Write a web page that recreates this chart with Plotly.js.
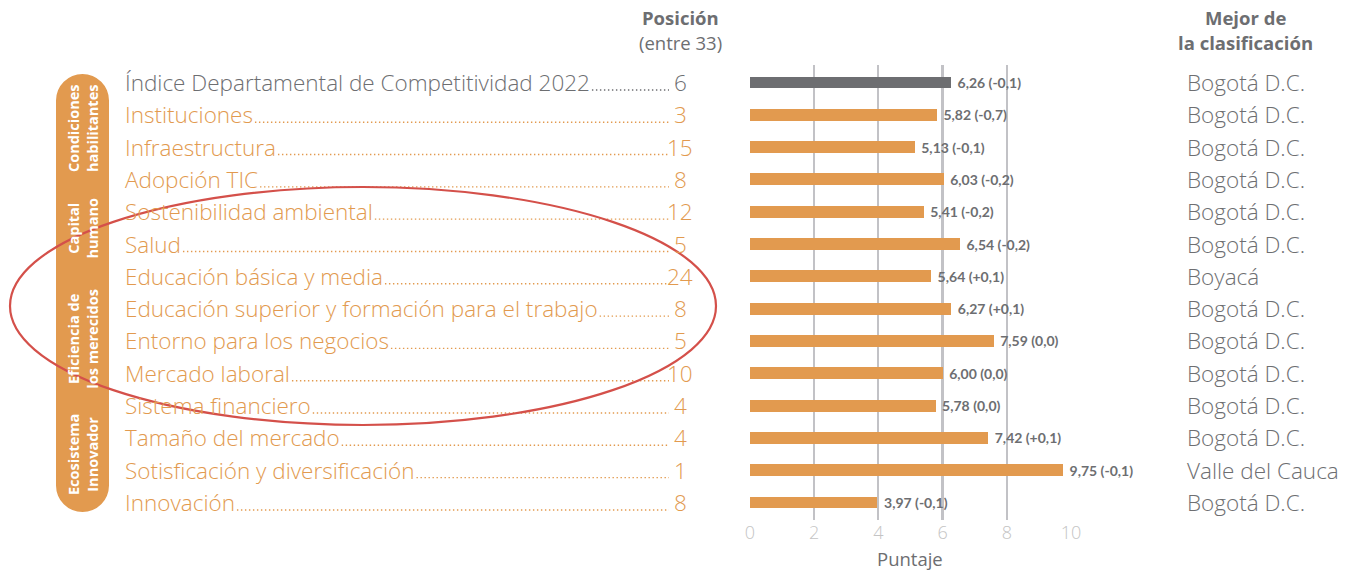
<!DOCTYPE html>
<html>
<head>
<meta charset="utf-8">
<script src="https://cdn.plot.ly/plotly-3.0.1.min.js"></script>
<style>
  html, body { margin: 0; padding: 0; background: #fff; }
  #chart { width: 1346px; height: 570px; }
</style>
</head>
<body>
<div id="chart"></div>
<script>
/* Índice Departamental de Competitividad 2022: scores by pillar */
const categories = [
  'Índice Departamental de Competitividad 2022',
  'Instituciones',
  'Infraestructura',
  'Adopción TIC',
  'Sostenibilidad ambiental',
  'Salud',
  'Educación básica y media',
  'Educación superior y formación para el trabajo',
  'Entorno para los negocios',
  'Mercado laboral',
  'Sistema financiero',
  'Tamaño del mercado',
  'Sotisficación y diversificación',
  'Innovación'
];
const positions = ['6', '3', '15', '8', '12', '5', '24', '8', '5', '10', '4', '4', '1', '8'];
const scores = [6.26, 5.82, 5.13, 6.03, 5.41, 6.54, 5.64, 6.27, 7.59, 6.00, 5.78, 7.42, 9.75, 3.97];
const changes = ['-0,1', '-0,7', '-0,1', '-0,2', '-0,2', '-0,2', '+0,1', '+0,1', '0,0', '0,0', '0,0', '+0,1', '-0,1', '-0,1'];
const leaders = [
  'Bogotá D.C.', 'Bogotá D.C.', 'Bogotá D.C.', 'Bogotá D.C.', 'Bogotá D.C.', 'Bogotá D.C.', 'Boyacá',
  'Bogotá D.C.', 'Bogotá D.C.', 'Bogotá D.C.', 'Bogotá D.C.', 'Bogotá D.C.', 'Valle del Cauca', 'Bogotá D.C.'
];
const groups = ['Condiciones<br>habilitantes', 'Capital<br>humano', 'Eficiencia de<br>los merecidos', 'Ecosistema<br>Innovador'];
const groupRows = [1.41, 4.52, 7.93, 11.53];
const xTicks = [0, 2, 4, 6, 8, 10];

const W = 1346, H = 570;
const px = x => x / W;
const py = y => 1 - y / H;

const ORANGE = '#e29a4f';
const DARK = '#6d6e71';
const LABEL_FONT = '"Open Sans", Lato, sans-serif';
const LABEL_SIZE = 22.5;
const LABEL_WEIGHT = 300;

// measure label widths so the dotted leaders start right after the text
const ctx = document.createElement('canvas').getContext('2d');
ctx.font = LABEL_WEIGHT + ' ' + LABEL_SIZE + 'px "Open Sans"';
const labelX = 123;

const barText = scores.map((v, i) => '\u00a0<b>' + v.toFixed(2).replace('.', ',') + ' (' + changes[i] + ')</b>');
// the overall index row is drawn in gray, the pillars in orange
const rowColors = categories.map((c, i) => i === 0 ? DARK : ORANGE);

const trace = {
  type: 'bar',
  orientation: 'h',
  x: scores,
  y: categories,
  marker: { color: rowColors },
  width: 0.37,
  text: barText,
  textposition: 'outside',
  constraintext: 'none',
  cliponaxis: false,
  textfont: { family: 'Lato, sans-serif', size: 14, color: DARK },
  hoverinfo: 'skip'
};

const annotations = [];
const shapes = [];

categories.forEach((c, i) => {
  const font = { family: LABEL_FONT, size: LABEL_SIZE, color: rowColors[i], weight: LABEL_WEIGHT };
  annotations.push({
    xref: 'paper', yref: 'y', x: px(labelX), y: i, xanchor: 'left', yanchor: 'middle',
    text: c, showarrow: false, font: font
  });
  const w = ctx.measureText(c).width;
  shapes.push({
    type: 'line', xref: 'paper', yref: 'y',
    x0: px(labelX + w + 4), x1: px(669), y0: i + 0.23, y1: i + 0.23,
    line: { color: rowColors[i], width: 1.4, dash: '1.4px,2.6px' }
  });
  annotations.push({
    xref: 'paper', yref: 'y', x: px(680), y: i, xanchor: 'center', yanchor: 'middle',
    text: positions[i], showarrow: false, font: font
  });
  annotations.push({
    xref: 'paper', yref: 'y', x: px(1185), y: i, xanchor: 'left', yanchor: 'middle',
    text: leaders[i], showarrow: false,
    font: { family: LABEL_FONT, size: LABEL_SIZE, color: DARK, weight: LABEL_WEIGHT }
  });
});

// category pill on the left
shapes.push(
  { type: 'rect', xref: 'paper', yref: 'paper', x0: px(56), x1: px(109), y0: py(100), y1: py(486), fillcolor: ORANGE, line: { width: 0 }, layer: 'below' },
  { type: 'circle', xref: 'paper', yref: 'paper', x0: px(56), x1: px(109), y0: py(74), y1: py(127), fillcolor: ORANGE, line: { width: 0 }, layer: 'below' },
  { type: 'circle', xref: 'paper', yref: 'paper', x0: px(56), x1: px(109), y0: py(459), y1: py(512), fillcolor: ORANGE, line: { width: 0 }, layer: 'below' }
);
groups.forEach((g, i) => {
  annotations.push({
    xref: 'paper', yref: 'y', x: px(83), y: groupRows[i], xanchor: 'center', yanchor: 'middle',
    text: '<b>' + g + '</b>', showarrow: false, textangle: -90,
    font: { family: '"Open Sans", sans-serif', size: 14.5, color: '#ffffff' }
  });
});

// red highlight ellipse
shapes.push({
  type: 'circle', xref: 'paper', yref: 'paper',
  x0: px(10), x1: px(716), y0: py(187), y1: py(425),
  line: { color: '#d4504a', width: 2.2 }, layer: 'above'
});

// column headers
const header = (x, y, text, xref) => ({
  xref: xref || 'paper', yref: 'paper', x: x, y: py(y), xanchor: 'center', yanchor: 'middle',
  text: text, showarrow: false, font: { family: LABEL_FONT, size: 18.5, color: DARK }
});
annotations.push(
  header(px(680), 18, '<b>Posición</b>'),
  header(px(680), 42, '(entre 33)'),
  header(px(1245), 18, '<b>Mejor de</b>'),
  header(px(1245), 42, '<b>la clasificación</b>'),
  header(5, 558, 'Puntaje', 'x')
);

const layout = {
  width: W,
  height: H,
  margin: { l: 0, r: 0, t: 0, b: 0 },
  paper_bgcolor: 'white',
  plot_bgcolor: 'white',
  showlegend: false,
  bargap: 0,
  xaxis: {
    domain: [px(750), px(1071.6)],
    range: [0, 10.02],
    tickvals: xTicks,
    showgrid: true,
    gridcolor: '#c2c2c6',
    gridwidth: 2.2,
    zeroline: false,
    showline: false,
    ticks: '',
    tickfont: { family: LABEL_FONT, size: 18, color: '#c4c4c4', weight: LABEL_WEIGHT },
    fixedrange: true
  },
  yaxis: {
    domain: [py(520), py(65)],
    autorange: 'reversed',
    showticklabels: false,
    showgrid: false,
    zeroline: false,
    fixedrange: true
  },
  shapes,
  annotations
};

Plotly.newPlot('chart', [trace], layout, { displayModeBar: false, staticPlot: true });
</script>
</body>
</html>
